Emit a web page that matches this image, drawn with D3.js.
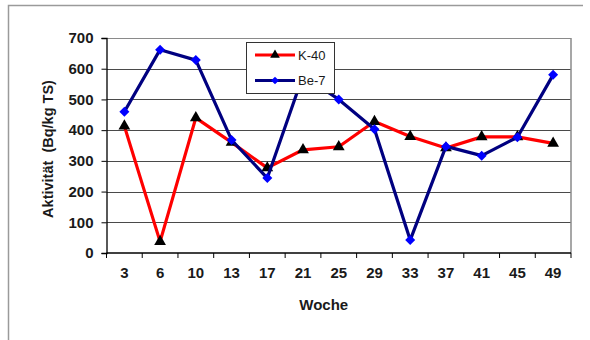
<!DOCTYPE html>
<html>
<head>
<meta charset="utf-8">
<script src="https://cdn.jsdelivr.net/npm/d3@7"></script>
<style>
  html, body { margin: 0; padding: 0; background: #fff; }
  svg { display: block; }
  text { font-family: "Liberation Sans", Arial, sans-serif; }
</style>
</head>
<body>
<svg id="chart" width="590" height="340"></svg>
<script>
// Sampling weeks
const weeks = ["3", "6", "10", "13", "17", "21", "25", "29", "33", "37", "41", "45", "49"];
// Activity in Bq/kg dry matter
const k40 = [413, 37, 440, 360, 277, 336, 346, 428, 379, 342, 378, 378, 357];
const be7 = [460, 662, 628, 368, 244, 578, 500, 403, 42, 347, 317, 377, 580];
const yTicks = [0, 100, 200, 300, 400, 500, 600, 700];

const svg = d3.select("#chart");
const W = 590, H = 340;
const plot = { left: 106.5, right: 571, top: 38, bottom: 253 };

const x = d3.scaleBand().domain(weeks).range([plot.left, plot.right]).paddingInner(0).paddingOuter(0);
const y = d3.scaleLinear().domain([0, 700]).range([plot.bottom, plot.top]);

// Outer frame (top and left edges)
svg.append("path")
  .attr("d", `M8.5,${H} V5.5 H583`)
  .attr("fill", "none").attr("stroke", "#9a9a9a").attr("stroke-width", 1.5);

// Horizontal gridlines
svg.append("g").selectAll("line").data(yTicks.filter(d => d > 0))
  .join("line")
  .attr("x1", plot.left).attr("x2", plot.right)
  .attr("y1", d => Math.round(y(d)) + 0.5).attr("y2", d => Math.round(y(d)) + 0.5)
  .attr("stroke", d => d === 700 ? "#8a8a8a" : "#4a4a4a").attr("stroke-width", 1.2);

// Plot area right edge
svg.append("line")
  .attr("x1", plot.right).attr("x2", plot.right)
  .attr("y1", plot.top).attr("y2", plot.bottom)
  .attr("stroke", "#8a8a8a").attr("stroke-width", 1.5);

// Y axis
const yAxis = d3.axisLeft(y).tickValues(yTicks).tickSize(5).tickPadding(8);
const gy = svg.append("g").attr("transform", `translate(${plot.left},0)`).call(yAxis);
gy.select(".domain").attr("stroke", "#000").attr("stroke-width", 1.3);
gy.selectAll(".tick line").attr("stroke", "#000");
gy.selectAll(".tick text")
  .attr("font-size", 15).attr("font-weight", "bold").attr("fill", "#1a1a1a")
  .attr("font-family", "Liberation Sans, Arial, sans-serif");

// X axis: ticks between categories, labels at category centers
const gx = svg.append("g").attr("transform", `translate(0,${plot.bottom})`);
gx.append("line")
  .attr("x1", plot.left).attr("x2", plot.right)
  .attr("stroke", "#000").attr("stroke-width", 1.3);
const bounds = weeks.map(w => x(w)).concat([x(weeks[weeks.length - 1]) + x.bandwidth()]);
gx.selectAll("line.tk").data(bounds).join("line").attr("class", "tk")
  .attr("x1", d => d).attr("x2", d => d).attr("y1", 0).attr("y2", 5)
  .attr("stroke", "#000");
gx.selectAll("text").data(weeks).join("text")
  .attr("x", d => x(d) + x.bandwidth() / 2).attr("y", 25)
  .attr("text-anchor", "middle")
  .attr("font-size", 15).attr("font-weight", "bold").attr("fill", "#1a1a1a")
  .text(d => d);

// Axis titles
svg.append("text")
  .attr("x", (plot.left + plot.right) / 2 - 15).attr("y", 310)
  .attr("text-anchor", "middle")
  .attr("font-size", 15).attr("font-weight", "bold").attr("fill", "#1a1a1a")
  .text("Woche");
svg.append("text")
  .attr("transform", "translate(53,149) rotate(-90)")
  .attr("text-anchor", "middle")
  .style("white-space", "pre")
  .attr("font-size", 14.5).attr("font-weight", "bold").attr("fill", "#1a1a1a")
  .text("Aktivität  (Bq/kg TS)");

const cx = d => x(d) + x.bandwidth() / 2;
const line = d3.line().x(d => cx(d[0])).y(d => y(d[1]));
const tri = d3.symbol().type(d3.symbolTriangle).size(60);
// Square diamond: a square turned by 45 degrees
const dia = d3.symbol().type(d3.symbolSquare).size(50);

// K-40 series
const kData = weeks.map((w, i) => [w, k40[i]]);
svg.append("path").datum(kData).attr("d", line)
  .attr("fill", "none").attr("stroke", "#ff0000").attr("stroke-width", 3.2)
  .attr("stroke-linejoin", "round");
svg.append("g").selectAll("path").data(kData).join("path")
  .attr("d", tri)
  .attr("transform", d => `translate(${cx(d[0])},${y(d[1])})`)
  .attr("fill", "#000");

// Be-7 series
const bData = weeks.map((w, i) => [w, be7[i]]);
svg.append("path").datum(bData).attr("d", line)
  .attr("fill", "none").attr("stroke", "#000080").attr("stroke-width", 3.2)
  .attr("stroke-linejoin", "round");
svg.append("g").selectAll("path").data(bData).join("path")
  .attr("d", dia)
  .attr("transform", d => `translate(${cx(d[0])},${y(d[1])}) rotate(45)`)
  .attr("fill", "#0000ff");

// Legend
const lg = svg.append("g");
lg.append("rect")
  .attr("x", 246.5).attr("y", 42.5).attr("width", 88).attr("height", 51)
  .attr("fill", "#fff").attr("stroke", "#333").attr("stroke-width", 1);
const entries = [
  { name: "K-40", color: "#ff0000", marker: "#000", sym: d3.symbol().type(d3.symbolTriangle).size(40), rot: 0, yy: 55 },
  { name: "Be-7", color: "#000080", marker: "#0000ff", sym: d3.symbol().type(d3.symbolSquare).size(30), rot: 45, yy: 80.5 }
];
entries.forEach(e => {
  lg.append("line").attr("x1", 255).attr("x2", 295).attr("y1", e.yy).attr("y2", e.yy)
    .attr("stroke", e.color).attr("stroke-width", 3.2);
  lg.append("path").attr("d", e.sym())
    .attr("transform", `translate(275,${e.yy}) rotate(${e.rot})`).attr("fill", e.marker);
  lg.append("text").attr("x", 298).attr("y", e.yy + 4.5)
    .attr("font-size", 13).attr("fill", "#1a1a1a").text(e.name);
});
</script>
</body>
</html>
